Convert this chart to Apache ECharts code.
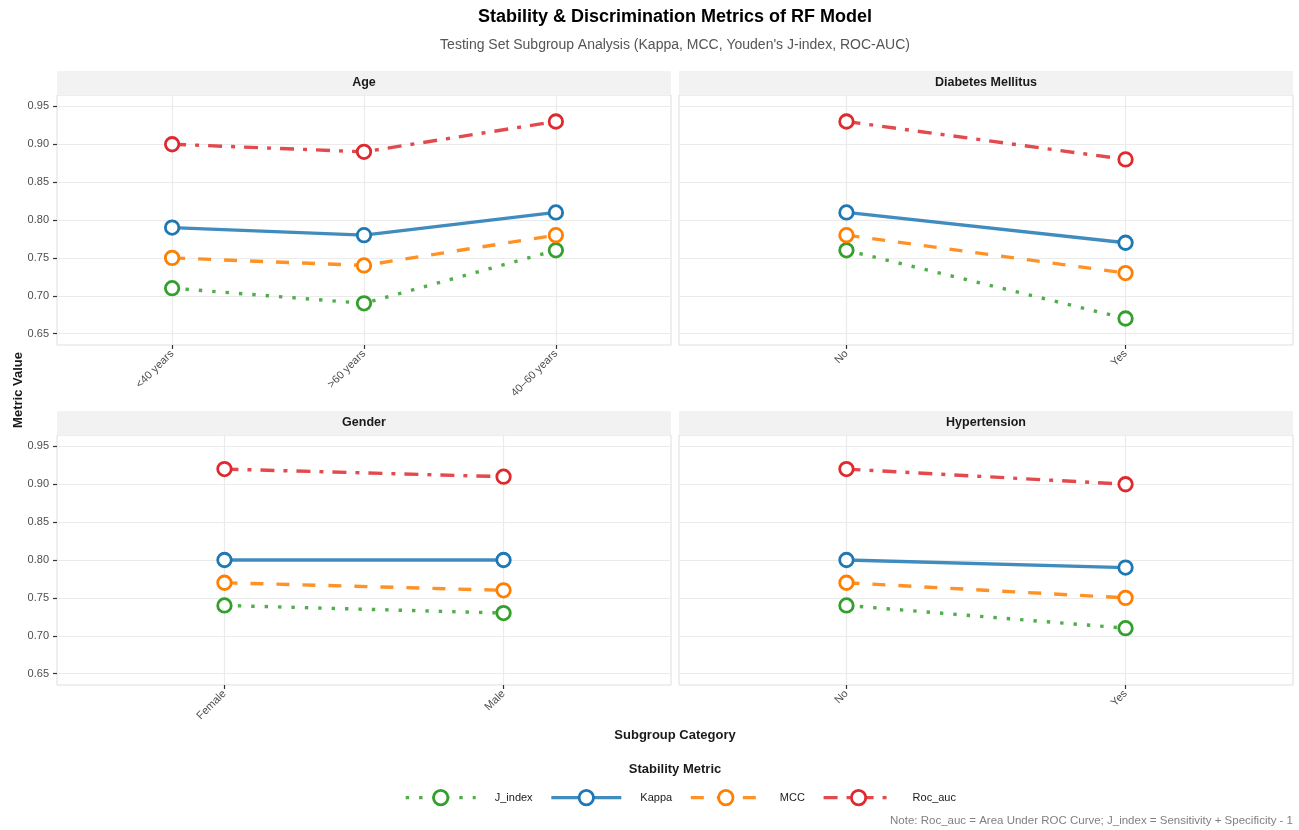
<!DOCTYPE html>
<html>
<head>
<meta charset="utf-8">
<script src="https://cdn.jsdelivr.net/npm/echarts@6/dist/echarts.min.js"></script>
<style>
  html, body { margin: 0; padding: 0; background: #ffffff; }
  #chart { width: 1299px; height: 830px; }
</style>
</head>
<body>
<div id="chart"></div>
<script>
// Metric names (legend order)
const metrics = ['J_index', 'Kappa', 'MCC', 'Roc_auc'];

// Facet titles
const panelTitles = ['Age', 'Diabetes Mellitus', 'Gender', 'Hypertension'];

// Categories per facet
const ageCats = ['<40 years', '>60 years', '40\u201360 years'];
const diabetesCats = ['No', 'Yes'];
const genderCats = ['Female', 'Male'];
const hypertensionCats = ['No', 'Yes'];

// Metric values per facet, in category order
const ageJ = [0.71, 0.69, 0.76];
const ageKappa = [0.79, 0.78, 0.81];
const ageMCC = [0.75, 0.74, 0.78];
const ageRoc = [0.90, 0.89, 0.93];

const diabetesJ = [0.76, 0.67];
const diabetesKappa = [0.81, 0.77];
const diabetesMCC = [0.78, 0.73];
const diabetesRoc = [0.93, 0.88];

const genderJ = [0.74, 0.73];
const genderKappa = [0.80, 0.80];
const genderMCC = [0.77, 0.76];
const genderRoc = [0.92, 0.91];

const hypertensionJ = [0.74, 0.71];
const hypertensionKappa = [0.80, 0.79];
const hypertensionMCC = [0.77, 0.75];
const hypertensionRoc = [0.92, 0.90];

// Y tick labels
const yTicks = [0.65, 0.70, 0.75, 0.80, 0.85, 0.90, 0.95];

const FONT = '"Liberation Sans", Arial, Helvetica, sans-serif';

const panels = [
  { title: panelTitles[0], cats: ageCats, values: [ageJ, ageKappa, ageMCC, ageRoc] },
  { title: panelTitles[1], cats: diabetesCats, values: [diabetesJ, diabetesKappa, diabetesMCC, diabetesRoc] },
  { title: panelTitles[2], cats: genderCats, values: [genderJ, genderKappa, genderMCC, genderRoc] },
  { title: panelTitles[3], cats: hypertensionCats, values: [hypertensionJ, hypertensionKappa, hypertensionMCC, hypertensionRoc] }
];

// Styling of each metric
const metricStyle = {
  J_index: { color: '#33A02C', dash: [3.4, 10] },
  Kappa:   { color: '#1F78B4', dash: 'solid' },
  MCC:     { color: '#FF7F00', dash: [13, 13] },
  Roc_auc: { color: '#DE2A2E', dash: [14, 9, 4, 9] }
};

// Facet layout
const panelBoxes = [
  { left: 57,  top: 95,  width: 614, height: 250, stripTop: 71 },
  { left: 679, top: 95,  width: 614, height: 250, stripTop: 71 },
  { left: 57,  top: 435, width: 614, height: 250, stripTop: 411 },
  { left: 679, top: 435, width: 614, height: 250, stripTop: 411 }
];

const grids = [], xAxes = [], yAxes = [], series = [], graphics = [];

panels.forEach((p, pi) => {
  const box = panelBoxes[pi];
  const idx = p.cats.map((_, i) => i);
  const showY = (pi % 2 === 0);

  grids.push({
    left: box.left, top: box.top, width: box.width, height: box.height,
    show: true, borderColor: '#dedede', borderWidth: 1, backgroundColor: '#ffffff'
  });

  xAxes.push({
    type: 'value', gridIndex: pi, position: 'bottom',
    min: -0.6, max: p.cats.length - 1 + 0.6,
    axisLine: { show: false, onZero: false },
    axisTick: { show: true, customValues: idx, length: 4, lineStyle: { color: '#333333', width: 1.2 } },
    axisLabel: {
      show: true, customValues: idx, rotate: 45, margin: 7,
      fontFamily: FONT, fontSize: 11, color: '#4d4d4d',
      formatter: v => p.cats[Math.round(v)]
    },
    splitLine: { show: true, lineStyle: { color: '#ebebeb', width: 1.2 } }
  });

  yAxes.push({
    type: 'value', gridIndex: pi, position: 'left',
    min: 0.635, max: 0.965,
    axisLine: { show: false, onZero: false },
    axisTick: { show: showY, customValues: yTicks, length: 4, lineStyle: { color: '#333333', width: 1.2 } },
    axisLabel: {
      show: showY, customValues: yTicks, margin: 8,
      fontFamily: FONT, fontSize: 11, color: '#4d4d4d',
      formatter: v => v.toFixed(2)
    },
    splitLine: { show: true, lineStyle: { color: '#ebebeb', width: 1.2 } }
  });

  metrics.forEach((m, mi) => {
    const st = metricStyle[m];
    series.push({
      type: 'line', name: m,
      xAxisIndex: pi, yAxisIndex: pi,
      data: p.values[mi].map((v, i) => [i, v]),
      symbol: 'circle', symbolSize: 13.5, showSymbol: true,
      lineStyle: { color: st.color, width: 3.4, type: st.dash, opacity: 0.85, cap: 'butt' },
      itemStyle: { color: '#ffffff', borderColor: st.color, borderWidth: 2.8 },
      emphasis: { disabled: true },
      silent: true,
      animation: false
    });
  });

  // Facet strip
  graphics.push({
    type: 'rect', silent: true,
    shape: { x: box.left, y: box.stripTop, width: box.width, height: box.top - box.stripTop },
    style: { fill: '#f2f2f2' }
  });
  graphics.push({
    type: 'text', silent: true,
    x: box.left + box.width / 2, y: box.stripTop + (box.top - box.stripTop) / 2,
    style: {
      text: p.title, align: 'center', verticalAlign: 'middle',
      font: 'bold 12.5px ' + FONT, fill: '#1a1a1a'
    }
  });
});

// Titles and annotations
graphics.push(
  {
    type: 'text', silent: true, x: 675, y: 17,
    style: { text: 'Stability & Discrimination Metrics of RF Model', align: 'center', verticalAlign: 'middle',
             font: 'bold 18px ' + FONT, fill: '#000000' }
  },
  {
    type: 'text', silent: true, x: 675, y: 45,
    style: { text: "Testing Set Subgroup Analysis (Kappa, MCC, Youden's J-index, ROC-AUC)", align: 'center',
             verticalAlign: 'middle', font: '14px ' + FONT, fill: '#555555' }
  },
  {
    type: 'text', silent: true, x: 18, y: 390, rotation: Math.PI / 2,
    style: { text: 'Metric Value', align: 'center', verticalAlign: 'middle',
             font: 'bold 13px ' + FONT, fill: '#1a1a1a' }
  },
  {
    type: 'text', silent: true, x: 675, y: 735,
    style: { text: 'Subgroup Category', align: 'center', verticalAlign: 'middle',
             font: 'bold 13px ' + FONT, fill: '#1a1a1a' }
  },
  {
    type: 'text', silent: true, x: 675, y: 769,
    style: { text: 'Stability Metric', align: 'center', verticalAlign: 'middle',
             font: 'bold 13px ' + FONT, fill: '#1a1a1a' }
  },
  {
    type: 'text', silent: true, x: 1293, y: 821,
    style: { text: 'Note: Roc_auc = Area Under ROC Curve; J_index = Sensitivity + Specificity - 1',
             align: 'right', verticalAlign: 'middle', font: '11.5px ' + FONT, fill: '#808080' }
  }
);

const chart = echarts.init(document.getElementById('chart'), null, { renderer: 'canvas' });
chart.setOption({
  animation: false,
  backgroundColor: '#ffffff',
  grid: grids,
  xAxis: xAxes,
  yAxis: yAxes,
  series: series,
  legend: {
    data: metrics,
    left: 399, top: 784,
    orient: 'horizontal',
    itemWidth: 70, itemHeight: 18, itemGap: 17,
    selectedMode: false,
    lineStyle: { width: 3.4 },
    itemStyle: { borderWidth: 2.8 },
    textStyle: { fontFamily: FONT, fontSize: 11, color: '#1a1a1a', padding: [0, 0, 0, 14] }
  },
  graphic: graphics
});
</script>
</body>
</html>
